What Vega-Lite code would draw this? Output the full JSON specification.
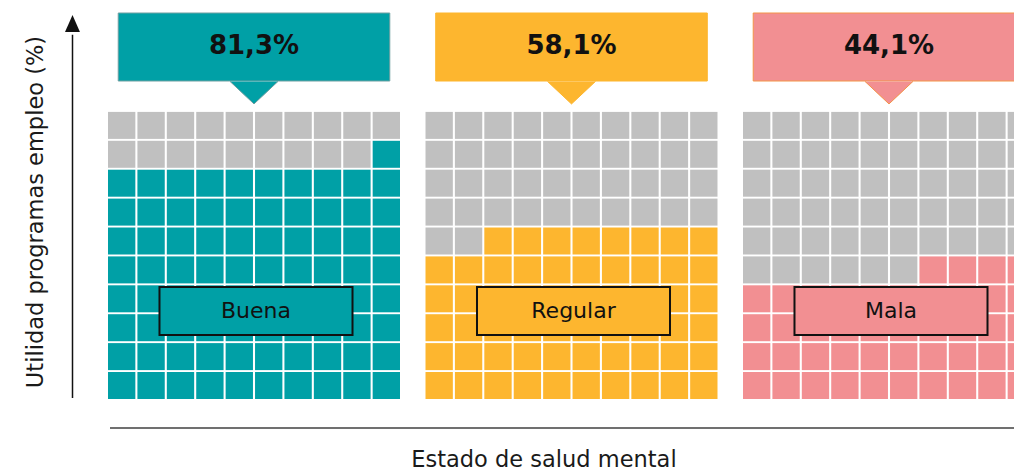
{
"$schema": "https://vega.github.io/schema/vega-lite/v6.json",
"width": 1014, "height": 471,
"autosize": {"type": "none"},
"padding": 0,
"background": "white",
"config": {"view": {"stroke": null}, "locale": {"number": {"decimal": ",", "thousands": ".", "grouping": [3], "currency": ["", " €"]}}},
"datasets": {
"grupos": [{"estado": "Buena", "proporcion": 0.813}, {"estado": "Regular", "proporcion": 0.581}, {"estado": "Mala", "proporcion": 0.441}],
"celdas": [
{"estado":"Buena","fila":0,"col":0,"lleno":1},{"estado":"Buena","fila":0,"col":1,"lleno":1},{"estado":"Buena","fila":0,"col":2,"lleno":1},{"estado":"Buena","fila":0,"col":3,"lleno":1},{"estado":"Buena","fila":0,"col":4,"lleno":1},{"estado":"Buena","fila":0,"col":5,"lleno":1},{"estado":"Buena","fila":0,"col":6,"lleno":1},{"estado":"Buena","fila":0,"col":7,"lleno":1},{"estado":"Buena","fila":0,"col":8,"lleno":1},{"estado":"Buena","fila":0,"col":9,"lleno":1},
{"estado":"Buena","fila":1,"col":0,"lleno":1},{"estado":"Buena","fila":1,"col":1,"lleno":1},{"estado":"Buena","fila":1,"col":2,"lleno":1},{"estado":"Buena","fila":1,"col":3,"lleno":1},{"estado":"Buena","fila":1,"col":4,"lleno":1},{"estado":"Buena","fila":1,"col":5,"lleno":1},{"estado":"Buena","fila":1,"col":6,"lleno":1},{"estado":"Buena","fila":1,"col":7,"lleno":1},{"estado":"Buena","fila":1,"col":8,"lleno":1},{"estado":"Buena","fila":1,"col":9,"lleno":1},
{"estado":"Buena","fila":2,"col":0,"lleno":1},{"estado":"Buena","fila":2,"col":1,"lleno":1},{"estado":"Buena","fila":2,"col":2,"lleno":1},{"estado":"Buena","fila":2,"col":3,"lleno":1},{"estado":"Buena","fila":2,"col":4,"lleno":1},{"estado":"Buena","fila":2,"col":5,"lleno":1},{"estado":"Buena","fila":2,"col":6,"lleno":1},{"estado":"Buena","fila":2,"col":7,"lleno":1},{"estado":"Buena","fila":2,"col":8,"lleno":1},{"estado":"Buena","fila":2,"col":9,"lleno":1},
{"estado":"Buena","fila":3,"col":0,"lleno":1},{"estado":"Buena","fila":3,"col":1,"lleno":1},{"estado":"Buena","fila":3,"col":2,"lleno":1},{"estado":"Buena","fila":3,"col":3,"lleno":1},{"estado":"Buena","fila":3,"col":4,"lleno":1},{"estado":"Buena","fila":3,"col":5,"lleno":1},{"estado":"Buena","fila":3,"col":6,"lleno":1},{"estado":"Buena","fila":3,"col":7,"lleno":1},{"estado":"Buena","fila":3,"col":8,"lleno":1},{"estado":"Buena","fila":3,"col":9,"lleno":1},
{"estado":"Buena","fila":4,"col":0,"lleno":1},{"estado":"Buena","fila":4,"col":1,"lleno":1},{"estado":"Buena","fila":4,"col":2,"lleno":1},{"estado":"Buena","fila":4,"col":3,"lleno":1},{"estado":"Buena","fila":4,"col":4,"lleno":1},{"estado":"Buena","fila":4,"col":5,"lleno":1},{"estado":"Buena","fila":4,"col":6,"lleno":1},{"estado":"Buena","fila":4,"col":7,"lleno":1},{"estado":"Buena","fila":4,"col":8,"lleno":1},{"estado":"Buena","fila":4,"col":9,"lleno":1},
{"estado":"Buena","fila":5,"col":0,"lleno":1},{"estado":"Buena","fila":5,"col":1,"lleno":1},{"estado":"Buena","fila":5,"col":2,"lleno":1},{"estado":"Buena","fila":5,"col":3,"lleno":1},{"estado":"Buena","fila":5,"col":4,"lleno":1},{"estado":"Buena","fila":5,"col":5,"lleno":1},{"estado":"Buena","fila":5,"col":6,"lleno":1},{"estado":"Buena","fila":5,"col":7,"lleno":1},{"estado":"Buena","fila":5,"col":8,"lleno":1},{"estado":"Buena","fila":5,"col":9,"lleno":1},
{"estado":"Buena","fila":6,"col":0,"lleno":1},{"estado":"Buena","fila":6,"col":1,"lleno":1},{"estado":"Buena","fila":6,"col":2,"lleno":1},{"estado":"Buena","fila":6,"col":3,"lleno":1},{"estado":"Buena","fila":6,"col":4,"lleno":1},{"estado":"Buena","fila":6,"col":5,"lleno":1},{"estado":"Buena","fila":6,"col":6,"lleno":1},{"estado":"Buena","fila":6,"col":7,"lleno":1},{"estado":"Buena","fila":6,"col":8,"lleno":1},{"estado":"Buena","fila":6,"col":9,"lleno":1},
{"estado":"Buena","fila":7,"col":0,"lleno":1},{"estado":"Buena","fila":7,"col":1,"lleno":1},{"estado":"Buena","fila":7,"col":2,"lleno":1},{"estado":"Buena","fila":7,"col":3,"lleno":1},{"estado":"Buena","fila":7,"col":4,"lleno":1},{"estado":"Buena","fila":7,"col":5,"lleno":1},{"estado":"Buena","fila":7,"col":6,"lleno":1},{"estado":"Buena","fila":7,"col":7,"lleno":1},{"estado":"Buena","fila":7,"col":8,"lleno":1},{"estado":"Buena","fila":7,"col":9,"lleno":1},
{"estado":"Buena","fila":8,"col":0,"lleno":0},{"estado":"Buena","fila":8,"col":1,"lleno":0},{"estado":"Buena","fila":8,"col":2,"lleno":0},{"estado":"Buena","fila":8,"col":3,"lleno":0},{"estado":"Buena","fila":8,"col":4,"lleno":0},{"estado":"Buena","fila":8,"col":5,"lleno":0},{"estado":"Buena","fila":8,"col":6,"lleno":0},{"estado":"Buena","fila":8,"col":7,"lleno":0},{"estado":"Buena","fila":8,"col":8,"lleno":0},{"estado":"Buena","fila":8,"col":9,"lleno":1},
{"estado":"Buena","fila":9,"col":0,"lleno":0},{"estado":"Buena","fila":9,"col":1,"lleno":0},{"estado":"Buena","fila":9,"col":2,"lleno":0},{"estado":"Buena","fila":9,"col":3,"lleno":0},{"estado":"Buena","fila":9,"col":4,"lleno":0},{"estado":"Buena","fila":9,"col":5,"lleno":0},{"estado":"Buena","fila":9,"col":6,"lleno":0},{"estado":"Buena","fila":9,"col":7,"lleno":0},{"estado":"Buena","fila":9,"col":8,"lleno":0},{"estado":"Buena","fila":9,"col":9,"lleno":0},
{"estado":"Regular","fila":0,"col":0,"lleno":1},{"estado":"Regular","fila":0,"col":1,"lleno":1},{"estado":"Regular","fila":0,"col":2,"lleno":1},{"estado":"Regular","fila":0,"col":3,"lleno":1},{"estado":"Regular","fila":0,"col":4,"lleno":1},{"estado":"Regular","fila":0,"col":5,"lleno":1},{"estado":"Regular","fila":0,"col":6,"lleno":1},{"estado":"Regular","fila":0,"col":7,"lleno":1},{"estado":"Regular","fila":0,"col":8,"lleno":1},{"estado":"Regular","fila":0,"col":9,"lleno":1},
{"estado":"Regular","fila":1,"col":0,"lleno":1},{"estado":"Regular","fila":1,"col":1,"lleno":1},{"estado":"Regular","fila":1,"col":2,"lleno":1},{"estado":"Regular","fila":1,"col":3,"lleno":1},{"estado":"Regular","fila":1,"col":4,"lleno":1},{"estado":"Regular","fila":1,"col":5,"lleno":1},{"estado":"Regular","fila":1,"col":6,"lleno":1},{"estado":"Regular","fila":1,"col":7,"lleno":1},{"estado":"Regular","fila":1,"col":8,"lleno":1},{"estado":"Regular","fila":1,"col":9,"lleno":1},
{"estado":"Regular","fila":2,"col":0,"lleno":1},{"estado":"Regular","fila":2,"col":1,"lleno":1},{"estado":"Regular","fila":2,"col":2,"lleno":1},{"estado":"Regular","fila":2,"col":3,"lleno":1},{"estado":"Regular","fila":2,"col":4,"lleno":1},{"estado":"Regular","fila":2,"col":5,"lleno":1},{"estado":"Regular","fila":2,"col":6,"lleno":1},{"estado":"Regular","fila":2,"col":7,"lleno":1},{"estado":"Regular","fila":2,"col":8,"lleno":1},{"estado":"Regular","fila":2,"col":9,"lleno":1},
{"estado":"Regular","fila":3,"col":0,"lleno":1},{"estado":"Regular","fila":3,"col":1,"lleno":1},{"estado":"Regular","fila":3,"col":2,"lleno":1},{"estado":"Regular","fila":3,"col":3,"lleno":1},{"estado":"Regular","fila":3,"col":4,"lleno":1},{"estado":"Regular","fila":3,"col":5,"lleno":1},{"estado":"Regular","fila":3,"col":6,"lleno":1},{"estado":"Regular","fila":3,"col":7,"lleno":1},{"estado":"Regular","fila":3,"col":8,"lleno":1},{"estado":"Regular","fila":3,"col":9,"lleno":1},
{"estado":"Regular","fila":4,"col":0,"lleno":1},{"estado":"Regular","fila":4,"col":1,"lleno":1},{"estado":"Regular","fila":4,"col":2,"lleno":1},{"estado":"Regular","fila":4,"col":3,"lleno":1},{"estado":"Regular","fila":4,"col":4,"lleno":1},{"estado":"Regular","fila":4,"col":5,"lleno":1},{"estado":"Regular","fila":4,"col":6,"lleno":1},{"estado":"Regular","fila":4,"col":7,"lleno":1},{"estado":"Regular","fila":4,"col":8,"lleno":1},{"estado":"Regular","fila":4,"col":9,"lleno":1},
{"estado":"Regular","fila":5,"col":0,"lleno":0},{"estado":"Regular","fila":5,"col":1,"lleno":0},{"estado":"Regular","fila":5,"col":2,"lleno":1},{"estado":"Regular","fila":5,"col":3,"lleno":1},{"estado":"Regular","fila":5,"col":4,"lleno":1},{"estado":"Regular","fila":5,"col":5,"lleno":1},{"estado":"Regular","fila":5,"col":6,"lleno":1},{"estado":"Regular","fila":5,"col":7,"lleno":1},{"estado":"Regular","fila":5,"col":8,"lleno":1},{"estado":"Regular","fila":5,"col":9,"lleno":1},
{"estado":"Regular","fila":6,"col":0,"lleno":0},{"estado":"Regular","fila":6,"col":1,"lleno":0},{"estado":"Regular","fila":6,"col":2,"lleno":0},{"estado":"Regular","fila":6,"col":3,"lleno":0},{"estado":"Regular","fila":6,"col":4,"lleno":0},{"estado":"Regular","fila":6,"col":5,"lleno":0},{"estado":"Regular","fila":6,"col":6,"lleno":0},{"estado":"Regular","fila":6,"col":7,"lleno":0},{"estado":"Regular","fila":6,"col":8,"lleno":0},{"estado":"Regular","fila":6,"col":9,"lleno":0},
{"estado":"Regular","fila":7,"col":0,"lleno":0},{"estado":"Regular","fila":7,"col":1,"lleno":0},{"estado":"Regular","fila":7,"col":2,"lleno":0},{"estado":"Regular","fila":7,"col":3,"lleno":0},{"estado":"Regular","fila":7,"col":4,"lleno":0},{"estado":"Regular","fila":7,"col":5,"lleno":0},{"estado":"Regular","fila":7,"col":6,"lleno":0},{"estado":"Regular","fila":7,"col":7,"lleno":0},{"estado":"Regular","fila":7,"col":8,"lleno":0},{"estado":"Regular","fila":7,"col":9,"lleno":0},
{"estado":"Regular","fila":8,"col":0,"lleno":0},{"estado":"Regular","fila":8,"col":1,"lleno":0},{"estado":"Regular","fila":8,"col":2,"lleno":0},{"estado":"Regular","fila":8,"col":3,"lleno":0},{"estado":"Regular","fila":8,"col":4,"lleno":0},{"estado":"Regular","fila":8,"col":5,"lleno":0},{"estado":"Regular","fila":8,"col":6,"lleno":0},{"estado":"Regular","fila":8,"col":7,"lleno":0},{"estado":"Regular","fila":8,"col":8,"lleno":0},{"estado":"Regular","fila":8,"col":9,"lleno":0},
{"estado":"Regular","fila":9,"col":0,"lleno":0},{"estado":"Regular","fila":9,"col":1,"lleno":0},{"estado":"Regular","fila":9,"col":2,"lleno":0},{"estado":"Regular","fila":9,"col":3,"lleno":0},{"estado":"Regular","fila":9,"col":4,"lleno":0},{"estado":"Regular","fila":9,"col":5,"lleno":0},{"estado":"Regular","fila":9,"col":6,"lleno":0},{"estado":"Regular","fila":9,"col":7,"lleno":0},{"estado":"Regular","fila":9,"col":8,"lleno":0},{"estado":"Regular","fila":9,"col":9,"lleno":0},
{"estado":"Mala","fila":0,"col":0,"lleno":1},{"estado":"Mala","fila":0,"col":1,"lleno":1},{"estado":"Mala","fila":0,"col":2,"lleno":1},{"estado":"Mala","fila":0,"col":3,"lleno":1},{"estado":"Mala","fila":0,"col":4,"lleno":1},{"estado":"Mala","fila":0,"col":5,"lleno":1},{"estado":"Mala","fila":0,"col":6,"lleno":1},{"estado":"Mala","fila":0,"col":7,"lleno":1},{"estado":"Mala","fila":0,"col":8,"lleno":1},{"estado":"Mala","fila":0,"col":9,"lleno":1},
{"estado":"Mala","fila":1,"col":0,"lleno":1},{"estado":"Mala","fila":1,"col":1,"lleno":1},{"estado":"Mala","fila":1,"col":2,"lleno":1},{"estado":"Mala","fila":1,"col":3,"lleno":1},{"estado":"Mala","fila":1,"col":4,"lleno":1},{"estado":"Mala","fila":1,"col":5,"lleno":1},{"estado":"Mala","fila":1,"col":6,"lleno":1},{"estado":"Mala","fila":1,"col":7,"lleno":1},{"estado":"Mala","fila":1,"col":8,"lleno":1},{"estado":"Mala","fila":1,"col":9,"lleno":1},
{"estado":"Mala","fila":2,"col":0,"lleno":1},{"estado":"Mala","fila":2,"col":1,"lleno":1},{"estado":"Mala","fila":2,"col":2,"lleno":1},{"estado":"Mala","fila":2,"col":3,"lleno":1},{"estado":"Mala","fila":2,"col":4,"lleno":1},{"estado":"Mala","fila":2,"col":5,"lleno":1},{"estado":"Mala","fila":2,"col":6,"lleno":1},{"estado":"Mala","fila":2,"col":7,"lleno":1},{"estado":"Mala","fila":2,"col":8,"lleno":1},{"estado":"Mala","fila":2,"col":9,"lleno":1},
{"estado":"Mala","fila":3,"col":0,"lleno":1},{"estado":"Mala","fila":3,"col":1,"lleno":1},{"estado":"Mala","fila":3,"col":2,"lleno":1},{"estado":"Mala","fila":3,"col":3,"lleno":1},{"estado":"Mala","fila":3,"col":4,"lleno":1},{"estado":"Mala","fila":3,"col":5,"lleno":1},{"estado":"Mala","fila":3,"col":6,"lleno":1},{"estado":"Mala","fila":3,"col":7,"lleno":1},{"estado":"Mala","fila":3,"col":8,"lleno":1},{"estado":"Mala","fila":3,"col":9,"lleno":1},
{"estado":"Mala","fila":4,"col":0,"lleno":0},{"estado":"Mala","fila":4,"col":1,"lleno":0},{"estado":"Mala","fila":4,"col":2,"lleno":0},{"estado":"Mala","fila":4,"col":3,"lleno":0},{"estado":"Mala","fila":4,"col":4,"lleno":0},{"estado":"Mala","fila":4,"col":5,"lleno":0},{"estado":"Mala","fila":4,"col":6,"lleno":1},{"estado":"Mala","fila":4,"col":7,"lleno":1},{"estado":"Mala","fila":4,"col":8,"lleno":1},{"estado":"Mala","fila":4,"col":9,"lleno":1},
{"estado":"Mala","fila":5,"col":0,"lleno":0},{"estado":"Mala","fila":5,"col":1,"lleno":0},{"estado":"Mala","fila":5,"col":2,"lleno":0},{"estado":"Mala","fila":5,"col":3,"lleno":0},{"estado":"Mala","fila":5,"col":4,"lleno":0},{"estado":"Mala","fila":5,"col":5,"lleno":0},{"estado":"Mala","fila":5,"col":6,"lleno":0},{"estado":"Mala","fila":5,"col":7,"lleno":0},{"estado":"Mala","fila":5,"col":8,"lleno":0},{"estado":"Mala","fila":5,"col":9,"lleno":0},
{"estado":"Mala","fila":6,"col":0,"lleno":0},{"estado":"Mala","fila":6,"col":1,"lleno":0},{"estado":"Mala","fila":6,"col":2,"lleno":0},{"estado":"Mala","fila":6,"col":3,"lleno":0},{"estado":"Mala","fila":6,"col":4,"lleno":0},{"estado":"Mala","fila":6,"col":5,"lleno":0},{"estado":"Mala","fila":6,"col":6,"lleno":0},{"estado":"Mala","fila":6,"col":7,"lleno":0},{"estado":"Mala","fila":6,"col":8,"lleno":0},{"estado":"Mala","fila":6,"col":9,"lleno":0},
{"estado":"Mala","fila":7,"col":0,"lleno":0},{"estado":"Mala","fila":7,"col":1,"lleno":0},{"estado":"Mala","fila":7,"col":2,"lleno":0},{"estado":"Mala","fila":7,"col":3,"lleno":0},{"estado":"Mala","fila":7,"col":4,"lleno":0},{"estado":"Mala","fila":7,"col":5,"lleno":0},{"estado":"Mala","fila":7,"col":6,"lleno":0},{"estado":"Mala","fila":7,"col":7,"lleno":0},{"estado":"Mala","fila":7,"col":8,"lleno":0},{"estado":"Mala","fila":7,"col":9,"lleno":0},
{"estado":"Mala","fila":8,"col":0,"lleno":0},{"estado":"Mala","fila":8,"col":1,"lleno":0},{"estado":"Mala","fila":8,"col":2,"lleno":0},{"estado":"Mala","fila":8,"col":3,"lleno":0},{"estado":"Mala","fila":8,"col":4,"lleno":0},{"estado":"Mala","fila":8,"col":5,"lleno":0},{"estado":"Mala","fila":8,"col":6,"lleno":0},{"estado":"Mala","fila":8,"col":7,"lleno":0},{"estado":"Mala","fila":8,"col":8,"lleno":0},{"estado":"Mala","fila":8,"col":9,"lleno":0},
{"estado":"Mala","fila":9,"col":0,"lleno":0},{"estado":"Mala","fila":9,"col":1,"lleno":0},{"estado":"Mala","fila":9,"col":2,"lleno":0},{"estado":"Mala","fila":9,"col":3,"lleno":0},{"estado":"Mala","fila":9,"col":4,"lleno":0},{"estado":"Mala","fila":9,"col":5,"lleno":0},{"estado":"Mala","fila":9,"col":6,"lleno":0},{"estado":"Mala","fila":9,"col":7,"lleno":0},{"estado":"Mala","fila":9,"col":8,"lleno":0},{"estado":"Mala","fila":9,"col":9,"lleno":0}
]
},
"resolve": {"scale": {"x": "independent"}},
"layer": [
{
"data": {"name": "celdas"},
"mark": {"type": "bar", "y2Offset": -27, "strokeWidth": 0},
"encoding": {
"x": {"field": "estado", "type": "nominal", "axis": null, "scale": {"type": "band", "domain": ["Buena", "Regular", "Mala"], "range": [108, 1035], "paddingInner": 0.0803, "paddingOuter": 0}},
"xOffset": {"field": "col", "type": "ordinal", "scale": {"type": "band", "paddingInner": 0.07, "paddingOuter": 0}},
"y": {"field": "fila", "type": "quantitative", "stack": null, "axis": null, "scale": {"domain": [-2.491, 13.806], "nice": false, "zero": false}},
"y2": {"field": "fila"},
"color": {"condition": {"test": "datum.lleno == 1", "field": "estado", "type": "nominal", "legend": null, "scale": {"domain": ["Buena", "Regular", "Mala"], "range": ["#00A0A6", "#FDB62F", "#F28F92"]}}, "value": "#C0C0C0"}
}
},
{
"data": {"name": "grupos"},
"mark": {"type": "bar", "width": {"band": 0.93}, "strokeWidth": 1},
"encoding": {
"x": {"field": "estado", "type": "nominal", "axis": null, "scale": {"type": "band", "domain": ["Buena", "Regular", "Mala"], "range": [108, 1035], "paddingInner": 0.0803, "paddingOuter": 0}},
"y": {"datum": 13.356, "type": "quantitative", "axis": null, "scale": {"domain": [-2.491, 13.806], "nice": false, "zero": false}},
"y2": {"datum": 11.003},
"color": {"field": "estado", "type": "nominal", "legend": null, "scale": {"domain": ["Buena", "Regular", "Mala"], "range": ["#00A0A6", "#FDB62F", "#F28F92"]}},
"stroke": {"field": "estado", "type": "nominal", "legend": null, "scale": {"domain": ["Buena", "Regular", "Mala"], "range": ["#6f9fa1", "#FDB62F", "#F39448"]}}
}
},
{
"data": {"name": "grupos"},
"mark": {"type": "point", "shape": "M-1,-0.47L0,0.47L1,-0.47", "size": 2304, "filled": true, "opacity": 1, "strokeWidth": 1},
"encoding": {
"x": {"field": "estado", "type": "nominal", "axis": null, "scale": {"type": "band", "domain": ["Buena", "Regular", "Mala"], "range": [108, 1035], "paddingInner": 0.0803, "paddingOuter": 0}},
"y": {"datum": 10.6, "type": "quantitative", "axis": null, "scale": {"domain": [-2.491, 13.806], "nice": false, "zero": false}},
"color": {"field": "estado", "type": "nominal", "legend": null, "scale": {"domain": ["Buena", "Regular", "Mala"], "range": ["#00A0A6", "#FDB62F", "#F28F92"]}},
"stroke": {"field": "estado", "type": "nominal", "legend": null, "scale": {"domain": ["Buena", "Regular", "Mala"], "range": ["#6f9fa1", "#FDB62F", "#F39448"]}}
}
},
{
"data": {"name": "grupos"},
"mark": {"type": "text", "font": "DejaVu Sans", "fontWeight": "bold", "fontSize": 26, "fill": "#111111", "align": "center", "baseline": "middle"},
"encoding": {
"x": {"field": "estado", "type": "nominal", "axis": null, "scale": {"type": "band", "domain": ["Buena", "Regular", "Mala"], "range": [108, 1035], "paddingInner": 0.0803, "paddingOuter": 0}},
"y": {"datum": 12.2, "type": "quantitative", "axis": null, "scale": {"domain": [-2.491, 13.806], "nice": false, "zero": false}},
"text": {"field": "proporcion", "type": "quantitative", "format": ".1%"}
}
},
{
"data": {"name": "grupos"},
"mark": {"type": "bar", "width": {"band": 0.661}, "stroke": "#111111", "strokeWidth": 2, "xOffset": 2},
"encoding": {
"x": {"field": "estado", "type": "nominal", "axis": null, "scale": {"type": "band", "domain": ["Buena", "Regular", "Mala"], "range": [108, 1035], "paddingInner": 0.0803, "paddingOuter": 0}},
"y": {"datum": 3.875, "type": "quantitative", "axis": null, "scale": {"domain": [-2.491, 13.806], "nice": false, "zero": false}},
"y2": {"datum": 2.215},
"color": {"field": "estado", "type": "nominal", "legend": null, "scale": {"domain": ["Buena", "Regular", "Mala"], "range": ["#00A0A6", "#FDB62F", "#F28F92"]}}
}
},
{
"data": {"name": "grupos"},
"mark": {"type": "text", "font": "DejaVu Sans", "fontSize": 22, "fill": "#111111", "align": "center", "baseline": "middle", "dx": 2},
"encoding": {
"x": {"field": "estado", "type": "nominal", "axis": null, "scale": {"type": "band", "domain": ["Buena", "Regular", "Mala"], "range": [108, 1035], "paddingInner": 0.0803, "paddingOuter": 0}},
"y": {"datum": 3.045, "type": "quantitative", "axis": null, "scale": {"domain": [-2.491, 13.806], "nice": false, "zero": false}},
"text": {"field": "estado", "type": "nominal"}
}
},
{
"data": {"values": [{}]},
"layer": [
{
"mark": {"type": "rule", "stroke": "#111111", "strokeWidth": 1.5},
"encoding": {
"x": {"datum": -1.216, "type": "quantitative", "axis": null, "scale": {"domain": [-3.699, 31.027], "nice": false, "zero": false}},
"y": {"datum": 0.035, "type": "quantitative", "axis": null, "scale": {"domain": [-2.491, 13.806], "nice": false, "zero": false}},
"y2": {"datum": 12.6}
}
},
{
"mark": {"type": "point", "shape": "M0,-1L0.88,1L-0.88,1Z", "size": 289, "filled": true, "opacity": 1, "fill": "#111111", "strokeWidth": 0},
"encoding": {
"x": {"datum": -1.216, "type": "quantitative", "axis": null, "scale": {"domain": [-3.699, 31.027], "nice": false, "zero": false}},
"y": {"datum": 12.993, "type": "quantitative", "axis": null, "scale": {"domain": [-2.491, 13.806], "nice": false, "zero": false}}
}
},
{
"mark": {"type": "text", "text": "Utilidad programas empleo (%)", "angle": 270, "font": "DejaVu Sans", "fontSize": 22.5, "fill": "#1a1a1a", "align": "center", "baseline": "middle"},
"encoding": {
"x": {"datum": -2.466, "type": "quantitative", "axis": null, "scale": {"domain": [-3.699, 31.027], "nice": false, "zero": false}},
"y": {"datum": 6.47, "type": "quantitative", "axis": null, "scale": {"domain": [-2.491, 13.806], "nice": false, "zero": false}}
}
},
{
"mark": {"type": "rule", "stroke": "#404040", "strokeWidth": 1.5},
"encoding": {
"x": {"datum": 0.068, "type": "quantitative", "axis": null, "scale": {"domain": [-3.699, 31.027], "nice": false, "zero": false}},
"x2": {"datum": 31.2},
"y": {"datum": -1.003, "type": "quantitative", "axis": null, "scale": {"domain": [-2.491, 13.806], "nice": false, "zero": false}}
}
},
{
"mark": {"type": "text", "text": "Estado de salud mental", "font": "DejaVu Sans", "fontSize": 22.5, "fill": "#1a1a1a", "align": "center", "baseline": "middle"},
"encoding": {
"x": {"datum": 14.93, "type": "quantitative", "axis": null, "scale": {"domain": [-3.699, 31.027], "nice": false, "zero": false}},
"y": {"datum": -2.111, "type": "quantitative", "axis": null, "scale": {"domain": [-2.491, 13.806], "nice": false, "zero": false}}
}
}
]
}
]
}
